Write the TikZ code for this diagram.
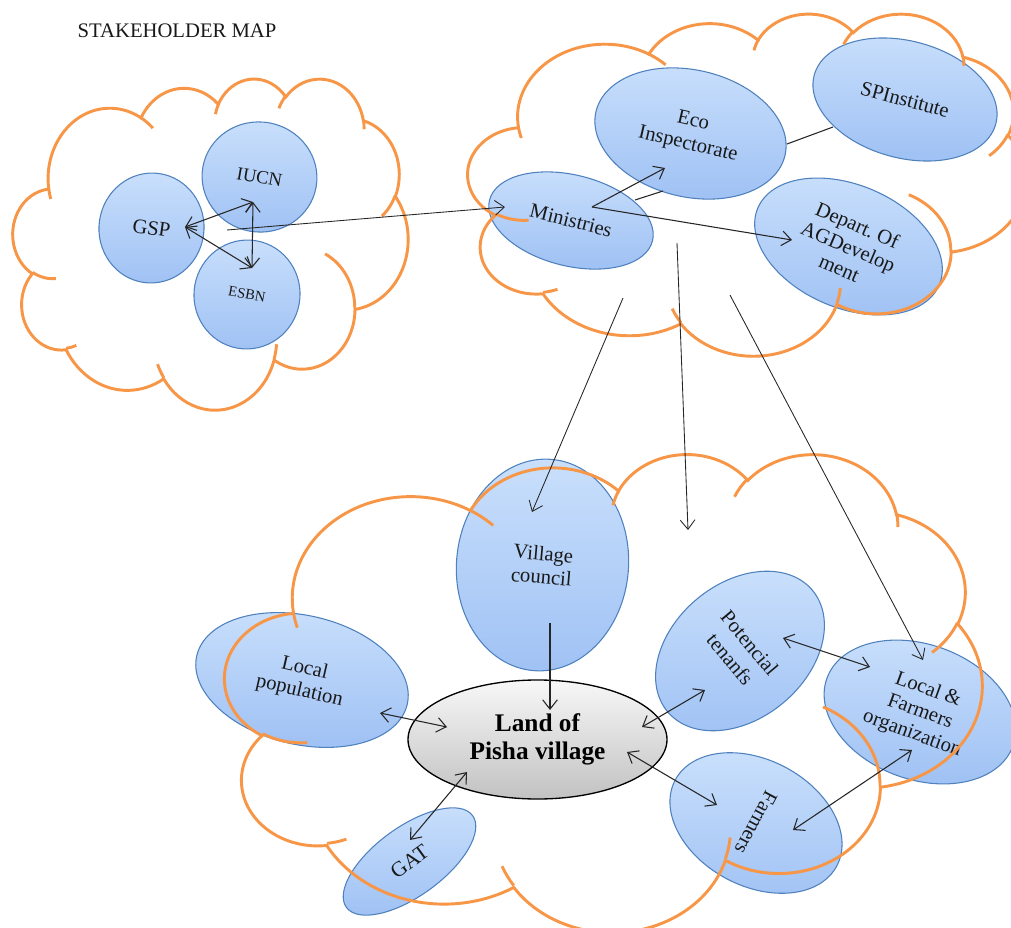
\documentclass[tikz,border=0pt]{standalone}
\usepackage{fontspec}
\setmainfont{Liberation Serif}
\usetikzlibrary{shapes.geometric,arrows.meta}
\definecolor{cloudorange}{RGB}{247,150,70}
\definecolor{ellborder}{RGB}{79,129,189}
\definecolor{elltop}{RGB}{202,224,252}
\definecolor{ellbot}{RGB}{160,194,244}
\definecolor{txt}{RGB}{25,25,25}
\tikzset{
  cloudline/.style={draw=cloudorange, line width=2.2pt},
  bub/.style={ellipse, draw=ellborder, line width=0.8pt, top color=elltop, bottom color=ellbot,
    inner sep=0pt, align=center, text=txt, font=\fontsize{15.5}{17.5}\selectfont},
  landbub/.style={ellipse, draw=black, line width=1pt, top color=black!3, bottom color=black!24,
    inner sep=0pt, align=center, font=\fontsize{19}{21.5}\selectfont\bfseries},
  tip/.tip={Straight Barb[length=7pt,width=11pt]},
  link/.style={draw=black!85, line width=0.8pt, -tip},
  dlink/.style={draw=black!85, line width=0.8pt, tip-tip},
  thinlink/.style={draw=black!85, line width=0.65pt, -tip},
  plain/.style={draw=black!85, line width=0.8pt},
}
% Word-style cloud outline in a 432 x 432 frame, placed at (#1,#2) with size #3 x #4
\newcommand\wordcloud[4]{%
  \begin{scope}[shift={(#1,#2)}, xscale=#3/432, yscale=#4/432]
    \draw[cloudline] (39.00,143.70)
      \foreach \rx/\ry/\st/\sw in {67.53/91.90/-190.4875/123.7805,
        53.33/72.67/-144.1024/89.9452, 43.65/59.45/-145.8079/99.7230,
        48.57/65.95/-130.9861/117.2417, 53.33/72.73/-78.7089/109.0269,
        67.75/92.20/-46.2673/130.2690, 57.85/78.67/0.6250/114.0333,
        67.52/92.15/22.4516/115.1726, 77.20/105.43/66.2426/75.7110,
        43.60/59.18/-274.9421/146.7356, 43.45/59.45/-246.8285/152.5189}
      { arc[start angle={atan2((\rx)*sin(\st),(\ry)*cos(\st))},
            delta angle={mod(atan2((\rx)*sin(\st+\sw),(\ry)*cos(\st+\sw))-atan2((\rx)*sin(\st),(\ry)*cos(\st))+720,360)},
            x radius=\rx, y radius=\ry] } -- cycle;
    \foreach \px/\py/\rx/\ry/\st/\sw in {46.93/261.77/43.45/59.45/86.7420/26.4295,
        69.28/348.99/43.60/59.18/73.6105/11.4475,
        164.78/390.90/67.52/92.15/137.6242/14.0811,
        288.27/347.51/67.52/92.15/6.4533/15.9984,
        341.29/229.54/57.85/78.67/-70.2924/70.9174,
        417.98/153.54/53.33/72.73/30.3180/27.7515,
        383.24/54.26/48.57/65.95/-13.7443/14.8589,
        290.78/39.52/48.57/65.95/-149.1815/18.1954,
        221.41/47.20/43.65/59.45/-163.4943/17.6864,
        140.00/51.92/67.53/91.90/-66.7070/12.3194,
        41.27/157.89/67.53/91.90/157.6544/11.8582}
      { \draw[cloudline] (\px,\py) arc[start angle={atan2((\rx)*sin(\st),(\ry)*cos(\st))},
            delta angle={mod(atan2((\rx)*sin(\st+\sw),(\ry)*cos(\st+\sw))-atan2((\rx)*sin(\st),(\ry)*cos(\st))+720,360)},
            x radius=\rx, y radius=\ry]; }
  \end{scope}}

\begin{document}
\begin{tikzpicture}[x=0.75pt, y=-0.75pt]
\useasboundingbox (0,0) rectangle (1011,928);

\node[anchor=base west, text=txt, font=\fontsize{15.5}{18}\selectfont] (title) at (73,37) {STAKEHOLDER MAP};

% ---- left group
\node[bub, rotate=-8, minimum width=105*0.75pt, minimum height=110*0.75pt] (gsp) at (151.5,228) {GSP};
\node[bub, rotate=-10, minimum width=115*0.75pt, minimum height=110*0.75pt, font=\fontsize{14}{16}\selectfont] (iucn) at (259.5,177) {IUCN};
\node[bub, rotate=-10, minimum width=106*0.75pt, minimum height=109*0.75pt, font=\fontsize{11}{13}\selectfont] (esbn) at (247,294.5) {ESBN};

% ---- top group
\node[bub, rotate=-14, minimum width=168*0.75pt, minimum height=91*0.75pt] (min) at (571,220.5) {Ministries};
\node[bub, rotate=-13, minimum width=194*0.75pt, minimum height=127*0.75pt] (eco) at (690.5,133.5) {Eco\\Inspectorate};
\node[bub, rotate=-15, minimum width=188*0.75pt, minimum height=117*0.75pt] (spi) at (905,99.5) {SPInstitute};
\node[bub, rotate=-23, minimum width=197*0.75pt, minimum height=123*0.75pt] (dep) at (848.5,246.5) {Depart.\ Of\\AGDevelop\\ment};

% ---- bottom group
\node[bub, rotate=-5, minimum width=172*0.75pt, minimum height=212*0.75pt] (vil) at (542.5,565) {Village\\council};
\node[bub, rotate=-13, minimum width=216*0.75pt, minimum height=129*0.75pt] (lp) at (302,680) {Local\\population};
\node[landbub, minimum width=259*0.75pt, minimum height=119*0.75pt] (land) at (537.5,739.5) {Land of\\Pisha village};
\node[bub, rotate=-50, minimum width=135*0.75pt, minimum height=189*0.75pt, font=\fontsize{15.5}{19}\selectfont] (pot) at (740,651) {Potencial\\tenanfs};
\node[bub, rotate=-20, minimum width=198*0.75pt, minimum height=135*0.75pt] (lfo) at (920,712) {Local \&\\Farmers\\organization};
\node[bub, rotate=-118, minimum width=126*0.75pt, minimum height=183*0.75pt] (farm) at (756,823) {Farmers};
\node[bub, rotate=36, minimum width=156*0.75pt, minimum height=69*0.75pt, font=\fontsize{16}{18}\selectfont] (gat) at (409.5,861.5) {GAT};

% ---- clouds
\wordcloud{13}{78}{395}{331}
\wordcloud{468}{13}{558}{342}
\wordcloud{225}{453}{757}{478}

% ---- connector end points
\coordinate (gspE) at (185,227);
\coordinate (iucnS) at (253,202);
\coordinate (esbnN) at (252,268);
\coordinate (gspOut) at (227,230);
\coordinate (minW) at (505,207);
\coordinate (minC) at (592,207);
\coordinate (ecoSW) at (665,168);
\coordinate (depW) at (792,240);
\coordinate (minNE) at (635,200);
\coordinate (ecoS) at (663,191);
\coordinate (ecoE) at (787,144);
\coordinate (spiW) at (833,127);
\coordinate (topA) at (623,298);
\coordinate (vilN) at (532,512);
\coordinate (topB) at (677,243);
\coordinate (freeB) at (688,530);
\coordinate (topC) at (730,295);
\coordinate (lfoN) at (923,660);
\coordinate (vilS) at (550,623);
\coordinate (landN) at (550,710);
\coordinate (lpE) at (380,713);
\coordinate (landW) at (447,727);
\coordinate (gatN) at (410,840);
\coordinate (landSW) at (467,772);
\coordinate (landE) at (642,727);
\coordinate (potSW) at (705,690);
\coordinate (landSE) at (627,752);
\coordinate (farmNW) at (717,805);
\coordinate (potE) at (783,638);
\coordinate (lfoW) at (870,667);
\coordinate (farmE) at (793,830);
\coordinate (lfoS) at (912,750);

% ---- connectors
\draw[dlink] (gspE) -- (iucnS);
\draw[dlink] (gspE) -- (esbnN);
\draw[dlink] (iucnS) -- (esbnN);
\draw[thinlink] (gspOut) -- (minW);
\draw[link] (minC) -- (ecoSW);
\draw[link] (minC) -- (depW);
\draw[plain] (minNE) -- (ecoS);
\draw[plain] (ecoE) -- (spiW);
\draw[thinlink] (topA) -- (vilN);
\draw[thinlink] (topB) -- (freeB);
\draw[thinlink] (topC) -- (lfoN);
\draw[link] (vilS) -- (landN);
\draw[dlink] (lpE) -- (landW);
\draw[dlink] (gatN) -- (landSW);
\draw[dlink] (landE) -- (potSW);
\draw[dlink] (landSE) -- (farmNW);
\draw[dlink] (potE) -- (lfoW);
\draw[dlink] (farmE) -- (lfoS);
\end{tikzpicture}
\end{document}
